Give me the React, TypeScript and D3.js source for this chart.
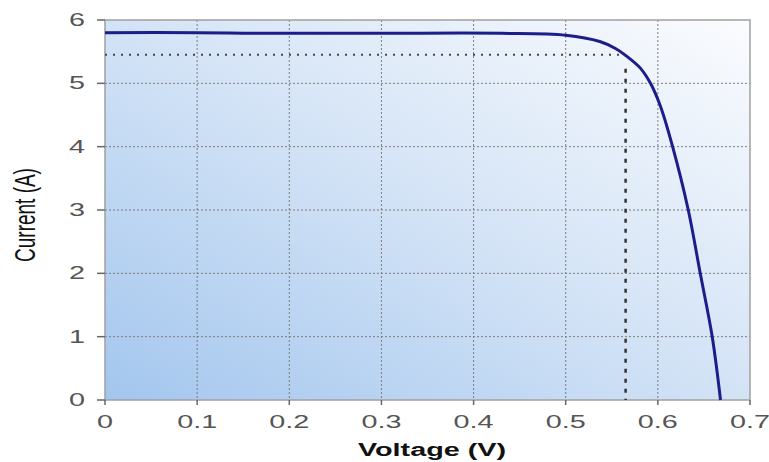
import { useEffect, useRef } from 'react';
import * as d3 from 'd3';

// I-V curve of a solar cell
const voltage = [0, 0.1, 0.15, 0.2, 0.3, 0.43, 0.5, 0.537, 0.554, 0.566, 0.581, 0.592, 0.603, 0.616, 0.633, 0.646, 0.659, 0.668];
const current = [5.8, 5.8, 5.79, 5.79, 5.79, 5.79, 5.76, 5.66, 5.55, 5.43, 5.24, 5.0, 4.63, 4.0, 3.0, 2.0, 1.0, 0];

const xTicks = [0, 0.1, 0.2, 0.3, 0.4, 0.5, 0.6, 0.7];
const yTicks = [0, 1, 2, 3, 4, 5, 6];

// maximum power point
const mppVoltage = [0.565];
const mppCurrent = [5.45];

const W = 769;
const H = 462;
const plot = { left: 105, right: 750, top: 20, bottom: 400 };
const stretch = 1.6;

export default function App() {
  const svgRef = useRef<SVGSVGElement | null>(null);

  useEffect(() => {
    const svg = d3.select(svgRef.current);
    svg.selectAll('*').remove();

    const x = d3.scaleLinear().domain([0, 0.7]).range([plot.left, plot.right]);
    const y = d3.scaleLinear().domain([0, 6]).range([plot.bottom, plot.top]);

    const defs = svg.append('defs');
    const grad = defs
      .append('linearGradient')
      .attr('id', 'bg')
      .attr('x1', 0)
      .attr('y1', 1)
      .attr('x2', 1)
      .attr('y2', 0);
    grad.append('stop').attr('offset', '0%').attr('stop-color', '#a3c6ee');
    grad.append('stop').attr('offset', '50%').attr('stop-color', '#d3e3f6');
    grad.append('stop').attr('offset', '100%').attr('stop-color', '#fbfcfe');

    svg
      .append('rect')
      .attr('x', plot.left)
      .attr('y', plot.top)
      .attr('width', plot.right - plot.left)
      .attr('height', plot.bottom - plot.top)
      .attr('fill', 'url(#bg)');

    // grid
    const grid = svg.append('g').attr('stroke', '#7d7d7d').attr('stroke-width', 1).attr('stroke-dasharray', '2,2');
    grid
      .selectAll('line.vx')
      .data(xTicks.filter(d => d > 0 && d < 0.7))
      .enter()
      .append('line')
      .attr('x1', d => x(d))
      .attr('x2', d => x(d))
      .attr('y1', plot.top)
      .attr('y2', plot.bottom);
    grid
      .selectAll('line.hy')
      .data(yTicks.filter(d => d > 0 && d < 6))
      .enter()
      .append('line')
      .attr('x1', plot.left)
      .attr('x2', plot.right)
      .attr('y1', d => y(d))
      .attr('y2', d => y(d));

    // frame
    svg
      .append('rect')
      .attr('x', plot.left)
      .attr('y', plot.top)
      .attr('width', plot.right - plot.left)
      .attr('height', plot.bottom - plot.top)
      .attr('fill', 'none')
      .attr('stroke', '#a0a0a0')
      .attr('stroke-width', 1.5);

    // maximum power point guides
    svg
      .append('line')
      .attr('x1', plot.left)
      .attr('x2', x(mppVoltage[0]))
      .attr('y1', y(mppCurrent[0]))
      .attr('y2', y(mppCurrent[0]))
      .attr('stroke', '#444')
      .attr('stroke-width', 2)
      .attr('stroke-dasharray', '2,6');
    svg
      .append('line')
      .attr('x1', x(mppVoltage[0]))
      .attr('x2', x(mppVoltage[0]))
      .attr('y1', y(mppCurrent[0]) + 14)
      .attr('y2', plot.bottom)
      .attr('stroke', '#333')
      .attr('stroke-width', 2.5)
      .attr('stroke-dasharray', '4,6');

    // curve
    const pts = voltage.map((v, i) => [v, current[i]] as [number, number]);
    const line = d3
      .line<[number, number]>()
      .x(d => x(d[0]))
      .y(d => y(d[1]))
      .curve(d3.curveCatmullRom.alpha(0.5));
    svg
      .append('path')
      .attr('d', line(pts))
      .attr('fill', 'none')
      .attr('stroke', '#1c1c8a')
      .attr('stroke-width', 3);

    // ticks
    const axisG = svg.append('g').attr('stroke', '#666').attr('stroke-width', 1.5);
    axisG
      .selectAll('line.xt')
      .data(xTicks)
      .enter()
      .append('line')
      .attr('x1', d => x(d))
      .attr('x2', d => x(d))
      .attr('y1', plot.bottom)
      .attr('y2', plot.bottom + 5);
    axisG
      .selectAll('line.yt')
      .data(yTicks)
      .enter()
      .append('line')
      .attr('x1', plot.left - 8)
      .attr('x2', plot.left)
      .attr('y1', d => y(d))
      .attr('y2', d => y(d));

    const font = '"Liberation Sans", Arial, sans-serif';

    svg
      .selectAll('text.xl')
      .data(xTicks)
      .enter()
      .append('text')
      .attr('transform', d => `translate(${x(d)},${plot.bottom + 28}) scale(${stretch},1)`)
      .attr('text-anchor', 'middle')
      .attr('font-family', font)
      .attr('font-size', 18)
      .attr('fill', '#555')
      .text(d => (d === 0 ? '0' : d3.format('.1f')(d)));

    svg
      .selectAll('text.yl')
      .data(yTicks)
      .enter()
      .append('text')
      .attr('transform', d => `translate(${plot.left - 20},${y(d) + 6}) scale(${stretch},1)`)
      .attr('text-anchor', 'end')
      .attr('font-family', font)
      .attr('font-size', 18)
      .attr('fill', '#555')
      .text(d => String(d));

    svg
      .append('text')
      .attr('transform', `translate(432,456) scale(${stretch},1)`)
      .attr('text-anchor', 'middle')
      .attr('font-family', font)
      .attr('font-size', 18)
      .attr('font-weight', 'bold')
      .attr('fill', '#111')
      .text('Voltage (V)');

    svg
      .append('text')
      .attr('transform', `translate(35,215) scale(${stretch},1) rotate(-90)`)
      .attr('text-anchor', 'middle')
      .attr('font-family', font)
      .attr('font-size', 19)
      .attr('fill', '#111')
      .text('Current (A)');
  }, []);

  return (
    <svg
      ref={svgRef}
      width={W}
      height={H}
      style={{ position: 'absolute', left: 0, top: 0, background: '#fff' }}
    />
  );
}
